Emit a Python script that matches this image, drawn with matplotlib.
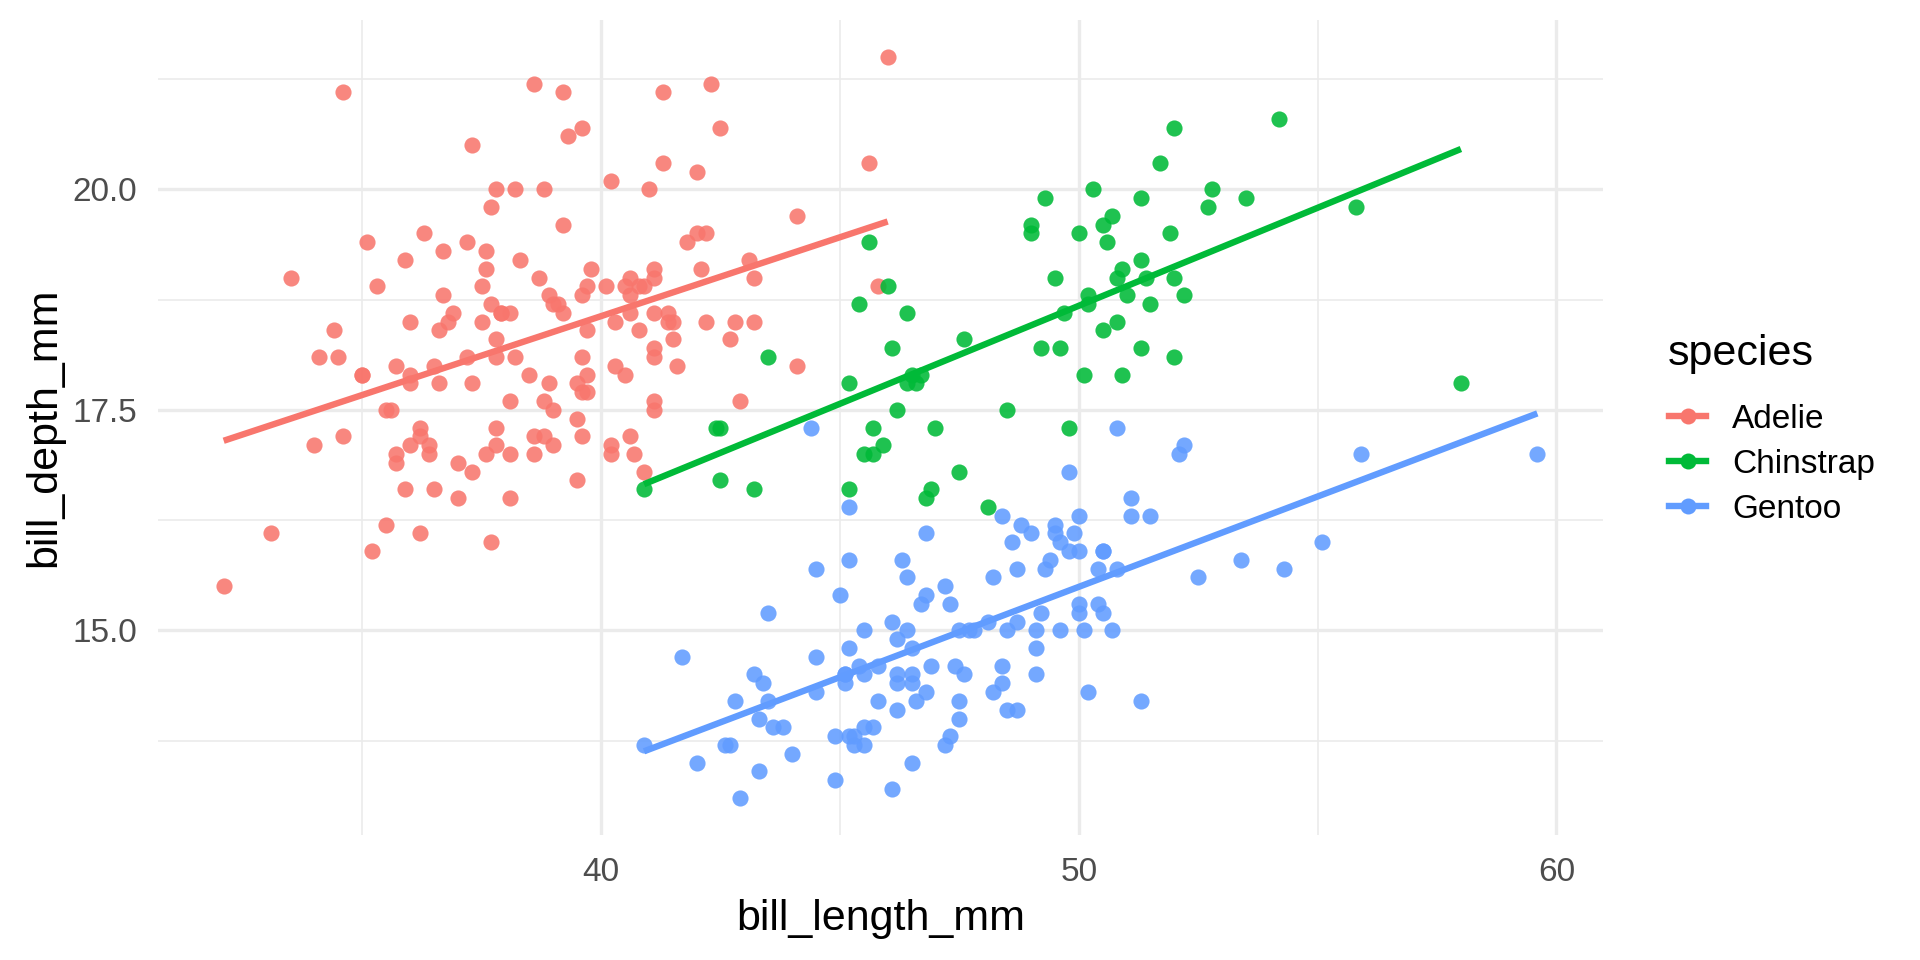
import matplotlib
matplotlib.use("Agg")
import matplotlib.pyplot as plt
from matplotlib.lines import Line2D
import numpy as np

plt.rcParams['font.family'] = ['Liberation Sans', 'DejaVu Sans']

species = ["Adelie", "Chinstrap", "Gentoo"]
colors = ["#F8766D", "#00BA38", "#619CFF"]

adelie_len = [39.1, 39.5, 40.3, 36.7, 39.3, 38.9, 39.2, 34.1, 42.0, 37.8,
              37.8, 41.1, 38.6, 34.6, 36.6, 38.7, 42.5, 34.4, 46.0, 37.8,
              37.7, 35.9, 38.2, 38.8, 35.3, 40.6, 40.5, 37.9, 40.5, 39.5,
              37.2, 39.5, 40.9, 36.4, 39.2, 38.8, 42.2, 37.6, 39.8, 36.5,
              40.8, 36.0, 44.1, 37.0, 39.6, 41.1, 37.5, 36.0, 42.3, 39.6,
              40.1, 35.0, 42.0, 34.5, 41.4, 39.0, 40.6, 36.5, 37.6, 35.7,
              41.3, 37.6, 41.1, 36.4, 41.6, 35.5, 41.1, 35.9, 41.8, 33.5,
              39.7, 39.6, 45.8, 35.5, 42.8, 40.9, 37.2, 36.2, 42.1, 34.6,
              42.9, 36.7, 35.1, 37.3, 41.3, 36.3, 36.9, 38.3, 38.9, 35.7,
              41.1, 34.0, 39.6, 36.2, 40.8, 38.1, 40.3, 33.1, 43.2, 35.0,
              41.0, 37.7, 37.8, 37.9, 39.7, 38.6, 38.2, 38.1, 43.2, 38.1,
              45.6, 39.7, 42.2, 39.6, 42.7, 38.6, 37.3, 35.7, 41.1, 36.2,
              37.7, 40.2, 41.4, 35.2, 40.6, 38.8, 41.5, 39.0, 44.1, 38.5,
              43.1, 36.8, 37.5, 38.1, 41.1, 35.6, 40.2, 37.0, 39.7, 40.2,
              40.6, 32.1, 40.7, 37.3, 39.0, 39.2, 36.6, 36.0, 37.8, 36.0,
              41.5]
adelie_dep = [18.7, 17.4, 18.0, 19.3, 20.6, 17.8, 19.6, 18.1, 20.2, 17.1,
              17.3, 17.6, 21.2, 21.1, 17.8, 19.0, 20.7, 18.4, 21.5, 18.3,
              18.7, 19.2, 18.1, 17.2, 18.9, 18.6, 17.9, 18.6, 18.9, 16.7,
              18.1, 17.8, 18.9, 17.0, 21.1, 20.0, 18.5, 19.3, 19.1, 18.0,
              18.4, 18.5, 19.7, 16.9, 18.8, 19.0, 18.9, 17.9, 21.2, 17.7,
              18.9, 17.9, 19.5, 18.1, 18.6, 17.5, 18.8, 16.6, 19.1, 16.9,
              21.1, 17.0, 18.2, 17.1, 18.0, 16.2, 19.1, 16.6, 19.4, 19.0,
              18.4, 17.2, 18.9, 17.5, 18.5, 16.8, 19.4, 16.1, 19.1, 17.2,
              17.6, 18.8, 19.4, 17.8, 20.3, 19.5, 18.6, 19.2, 18.8, 18.0,
              18.1, 17.1, 18.1, 17.3, 18.9, 18.6, 18.5, 16.1, 18.5, 17.9,
              20.0, 16.0, 20.0, 18.6, 18.9, 17.2, 20.0, 17.0, 19.0, 16.5,
              20.3, 17.7, 19.5, 20.7, 18.3, 17.0, 20.5, 17.0, 18.6, 17.2,
              19.8, 17.0, 18.5, 15.9, 19.0, 17.6, 18.3, 17.1, 18.0, 17.9,
              19.2, 18.5, 18.5, 17.6, 17.5, 17.5, 20.1, 16.5, 17.9, 17.1,
              17.2, 15.5, 17.0, 16.8, 18.7, 18.6, 18.4, 17.8, 18.1, 17.1,
              18.5]

chinstrap_len = [46.5, 50.0, 51.3, 45.4, 52.7, 45.2, 46.1, 51.3, 46.0, 51.3,
                 46.6, 51.7, 47.0, 52.0, 45.9, 50.5, 50.3, 58.0, 46.4, 49.2,
                 42.4, 48.5, 43.2, 50.6, 46.7, 52.0, 50.5, 49.5, 46.4, 52.8,
                 40.9, 54.2, 42.5, 51.0, 49.7, 47.5, 47.6, 52.0, 46.9, 53.5,
                 49.0, 46.2, 50.9, 45.5, 50.9, 50.8, 50.1, 49.0, 51.5, 49.8,
                 48.1, 51.4, 45.7, 50.7, 42.5, 52.2, 45.2, 49.3, 50.2, 45.6,
                 51.9, 46.8, 45.7, 55.8, 43.5, 49.6, 50.8, 50.2]
chinstrap_dep = [17.9, 19.5, 19.2, 18.7, 19.8, 17.8, 18.2, 18.2, 18.9, 19.9,
                 17.8, 20.3, 17.3, 18.1, 17.1, 19.6, 20.0, 17.8, 18.6, 18.2,
                 17.3, 17.5, 16.6, 19.4, 17.9, 19.0, 18.4, 19.0, 17.8, 20.0,
                 16.6, 20.8, 16.7, 18.8, 18.6, 16.8, 18.3, 20.7, 16.6, 19.9,
                 19.5, 17.5, 19.1, 17.0, 17.9, 18.5, 17.9, 19.6, 18.7, 17.3,
                 16.4, 19.0, 17.3, 19.7, 17.3, 18.8, 16.6, 19.9, 18.8, 19.4,
                 19.5, 16.5, 17.0, 19.8, 18.1, 18.2, 19.0, 18.7]

gentoo_len = [46.1, 50.0, 48.7, 50.0, 47.6, 46.5, 45.4, 46.7, 43.3, 46.8,
              40.9, 49.0, 45.5, 48.4, 45.8, 49.3, 42.0, 49.2, 46.2, 48.7,
              50.2, 45.1, 46.5, 46.3, 42.9, 46.1, 44.5, 47.8, 48.2, 50.0,
              47.3, 42.8, 45.1, 59.6, 49.1, 48.4, 42.6, 44.4, 44.0, 48.7,
              42.7, 49.6, 45.3, 49.6, 50.5, 43.6, 45.5, 50.5, 44.9, 45.2,
              46.6, 48.5, 45.1, 50.1, 46.5, 45.0, 43.8, 45.5, 43.2, 50.4,
              45.3, 46.2, 45.7, 54.3, 45.8, 49.8, 46.2, 49.5, 43.5, 50.7,
              47.7, 46.4, 48.2, 46.5, 46.4, 48.6, 47.5, 51.1, 45.2, 45.2,
              49.1, 52.5, 47.4, 50.0, 44.9, 50.8, 43.4, 51.3, 47.5, 52.1,
              47.5, 52.2, 45.5, 49.5, 44.5, 50.8, 49.4, 46.9, 48.4, 51.1,
              48.5, 55.9, 47.2, 49.1, 47.3, 46.8, 41.7, 53.4, 43.3, 48.1,
              50.5, 49.8, 43.5, 51.5, 46.2, 55.1, 44.5, 48.8, 47.2, 46.8,
              50.4, 45.2, 49.9]
gentoo_dep = [13.2, 16.3, 14.1, 15.2, 14.5, 13.5, 14.6, 15.3, 13.4, 15.4,
              13.7, 16.1, 13.7, 14.6, 14.6, 15.7, 13.5, 15.2, 14.5, 15.1,
              14.3, 14.5, 14.5, 15.8, 13.1, 15.1, 14.3, 15.0, 14.3, 15.3,
              15.3, 14.2, 14.5, 17.0, 14.8, 16.3, 13.7, 17.3, 13.6, 15.7,
              13.7, 16.0, 13.7, 15.0, 15.9, 13.9, 13.9, 15.9, 13.3, 15.8,
              14.2, 14.1, 14.4, 15.0, 14.4, 15.4, 13.9, 15.0, 14.5, 15.3,
              13.8, 14.9, 13.9, 15.7, 14.2, 16.8, 14.4, 16.2, 14.2, 15.0,
              15.0, 15.6, 15.6, 14.8, 15.0, 16.0, 14.2, 16.3, 13.8, 16.4,
              14.5, 15.6, 14.6, 15.9, 13.8, 17.3, 14.4, 14.2, 14.0, 17.0,
              15.0, 17.1, 14.5, 16.1, 14.7, 15.7, 15.8, 14.6, 14.4, 16.5,
              15.0, 17.0, 15.5, 15.0, 13.8, 16.1, 14.7, 15.8, 14.0, 15.1,
              15.2, 15.9, 15.2, 16.3, 14.1, 16.0, 15.7, 16.2, 13.7, 14.3,
              15.7, 14.8, 16.1]

lengths = [adelie_len, chinstrap_len, gentoo_len]
depths = [adelie_dep, chinstrap_dep, gentoo_dep]

fig = plt.figure(figsize=(19.2, 9.6), dpi=100)
ax = fig.add_axes([158 / 1920, 1 - 835 / 960, (1603 - 158) / 1920, (835 - 20) / 960])

# points first, then the lm lines on top (like geom_point + geom_smooth)
for x, y, c in zip(lengths, depths, colors):
    ax.scatter(x, y, s=135, color=c, alpha=0.88, linewidths=0, zorder=3)

for x, y, c in zip(lengths, depths, colors):
    x = np.array(x)
    y = np.array(y)
    b, a = np.polyfit(x, y, 1)
    xs = np.array([x.min(), x.max()])
    ax.plot(xs, a + b * xs, color=c, lw=4.6, solid_capstyle='butt', zorder=4)

allx = np.concatenate([np.array(v) for v in lengths])
ally = np.concatenate([np.array(v) for v in depths])
rx = allx.max() - allx.min()
ry = ally.max() - ally.min()
ax.set_xlim(allx.min() - 0.05 * rx, allx.max() + 0.05 * rx)
ax.set_ylim(ally.min() - 0.05 * ry, ally.max() + 0.05 * ry)

ax.set_xticks([40, 50, 60])
ax.set_xticks([35, 45, 55], minor=True)
ax.set_yticks([15.0, 17.5, 20.0])
ax.set_yticklabels(["15.0", "17.5", "20.0"])
ax.set_yticks([13.75, 16.25, 18.75, 21.25], minor=True)

ax.grid(which='major', color='#EBEBEB', lw=2.4)
ax.grid(which='minor', color='#EBEBEB', lw=1.2)
ax.set_axisbelow(True)
for s in ax.spines.values():
    s.set_visible(False)
ax.tick_params(which='both', length=0, labelsize=24, labelcolor='#4D4D4D')
ax.tick_params(axis='x', pad=16)
ax.tick_params(axis='y', pad=15)

ax.set_xlabel("bill_length_mm", fontsize=31, labelpad=8)
ax.set_ylabel("bill_depth_mm", fontsize=31, labelpad=6)

# legend: title as its own text, keys below it
fig.text(1668 / 1920, 1 - 365 / 960, "species", fontsize=31, va='baseline', ha='left')
handles = [Line2D([0], [0], color=c, lw=4.6, marker='o', markersize=11.5,
                  markeredgewidth=0) for c in colors]
leg = fig.legend(handles, species, loc='center left',
                 bbox_to_anchor=(1669 / 1920, 1 - 464 / 960),
                 frameon=False, fontsize=24, handlelength=1.12,
                 handletextpad=0.78, labelspacing=0.42, borderpad=0, borderaxespad=0)

fig.savefig("out.png", dpi=100)
